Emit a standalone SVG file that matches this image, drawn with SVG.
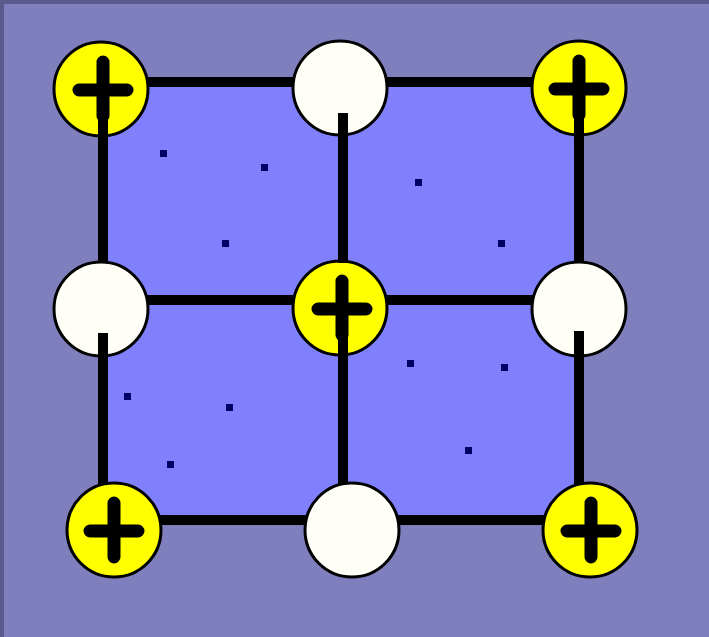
<svg xmlns="http://www.w3.org/2000/svg" width="709" height="637" viewBox="0 0 709 637">
<defs>
<style>
.bg{fill:#7f7fbe}
.frame{fill:#5a5a8c}
.cell{fill:#8080fc}
.edge{stroke:#000;stroke-width:10;fill:none}
.ring{stroke:#000;stroke-width:3}
.plus{fill:#ffff00}
.minus{fill:#fffff8}
.cross{stroke:#000;stroke-width:13;stroke-linecap:round;fill:none}
.dot{fill:#000066}
</style>
<g id="plusSym">
<path class="cross" d="M-24 1H24M0 -27V27"/>
</g>
</defs>
<rect class="bg" x="0" y="0" width="709" height="637"/>
<rect class="frame" x="0" y="0" width="709" height="4"/>
<rect class="frame" x="0" y="0" width="4" height="637"/>
<rect class="cell" x="103" y="82" width="476" height="438"/>
<g id="dots">
<rect class="dot" x="160" y="150" width="7" height="7"/>
<rect class="dot" x="261" y="164" width="7" height="7"/>
<rect class="dot" x="222" y="240" width="7" height="7"/>
<rect class="dot" x="415" y="179" width="7" height="7"/>
<rect class="dot" x="498" y="240" width="7" height="7"/>
<rect class="dot" x="124" y="393" width="7" height="7"/>
<rect class="dot" x="226" y="404" width="7" height="7"/>
<rect class="dot" x="167" y="461" width="7" height="7"/>
<rect class="dot" x="407" y="360" width="7" height="7"/>
<rect class="dot" x="501" y="364" width="7" height="7"/>
<rect class="dot" x="465" y="447" width="7" height="7"/>
</g>
<g id="connectors-h">
<line class="edge" x1="101" y1="82" x2="579" y2="82"/>
<line class="edge" x1="101" y1="300" x2="579" y2="300"/>
<line class="edge" x1="114" y1="520" x2="590" y2="520"/>
</g>
<g id="n-tl"><circle class="plus ring" cx="101" cy="89" r="47"/><use href="#plusSym" x="103" y="89"/></g>
<g id="n-tc"><circle class="minus ring" cx="340" cy="88" r="47"/></g>
<g id="n-tr"><circle class="plus ring" cx="579" cy="88" r="47"/><use href="#plusSym" x="579" y="88"/></g>
<g id="n-ml"><circle class="minus ring" cx="101" cy="309" r="47"/></g>
<g id="n-c"><circle class="plus ring" cx="340" cy="308" r="47"/><use href="#plusSym" x="342" y="308"/></g>
<g id="n-mr"><circle class="minus ring" cx="579" cy="309" r="47"/></g>
<g id="n-bl"><circle class="plus ring" cx="114" cy="530" r="47"/><use href="#plusSym" x="114" y="530"/></g>
<g id="n-bc"><circle class="minus ring" cx="352" cy="530" r="47"/></g>
<g id="n-br"><circle class="plus ring" cx="590" cy="530" r="47"/><use href="#plusSym" x="591" y="530"/></g>
<g id="connectors-v">
<line class="edge" x1="103" y1="112" x2="103" y2="263"/>
<line class="edge" x1="343" y1="113" x2="343" y2="263"/>
<line class="edge" x1="579" y1="112" x2="579" y2="263"/>
<line class="edge" x1="103" y1="333" x2="103" y2="484"/>
<line class="edge" x1="343" y1="332" x2="343" y2="484"/>
<line class="edge" x1="579" y1="331" x2="579" y2="484"/>
</g>
</svg>
